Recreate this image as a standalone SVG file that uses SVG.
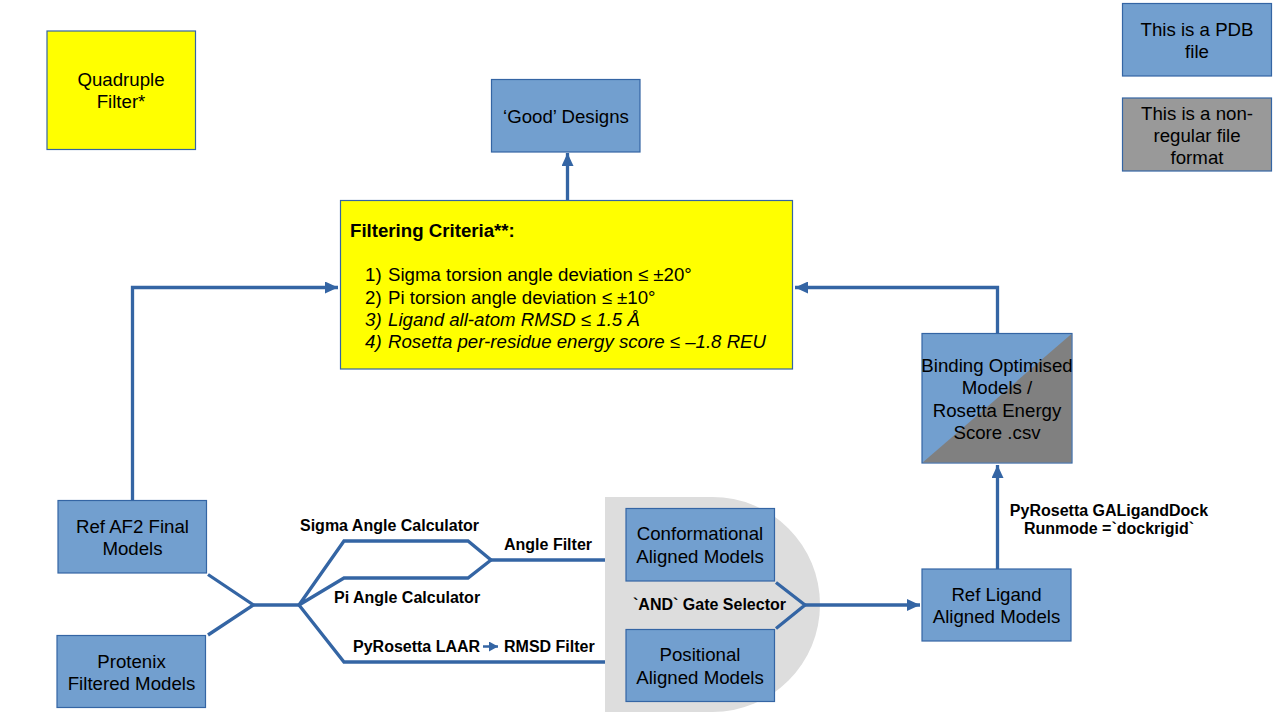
<svg xmlns="http://www.w3.org/2000/svg" width="1280" height="720" viewBox="0 0 1280 720">
<defs>
<style>
.box{fill:#729fcf;stroke:#3465a4;stroke-width:1.2}
.yel{fill:#ffff00;stroke:#3465a4;stroke-width:1.2}
.gry{fill:#999999;stroke:#3465a4;stroke-width:1.2}
.t{font-family:"Liberation Sans",Arial,sans-serif;font-size:18.67px;fill:#000;text-anchor:middle}
.b{font-family:"Liberation Sans",Arial,sans-serif;font-size:16px;font-weight:bold;fill:#000}
.c{font-family:"Liberation Sans",Arial,sans-serif;font-size:18.67px;fill:#000}
.ln{fill:none;stroke:#3465a4;stroke-width:3.3;stroke-linejoin:miter}
</style>
<marker id="ah" markerUnits="userSpaceOnUse" markerWidth="14" markerHeight="12" refX="13" refY="6" orient="auto">
<path d="M0,0 L13,6 L0,12 Z" fill="#3465a4"/>
</marker>
<marker id="ahs" markerUnits="userSpaceOnUse" markerWidth="10" markerHeight="10" refX="9" refY="5" orient="auto">
<path d="M0,0 L9,5 L0,10 Z" fill="#3465a4"/>
</marker>
</defs>
<rect width="1280" height="720" fill="#ffffff"/>

<g id="gate-bg">
<path d="M605,497 H712.5 A107.5,107.5 0 0 1 712.5,712 H605 Z" fill="#dddddd"/>
</g>

<g id="connectors">
<polyline class="ln" points="132.5,500 132.5,287.5 338,287.5" marker-end="url(#ah)"/>
<polyline class="ln" points="997.5,333 997.5,287.5 795,287.5" marker-end="url(#ah)"/>
<line class="ln" x1="567.5" y1="200" x2="567.5" y2="153" marker-end="url(#ah)"/>
<line class="ln" x1="997.5" y1="569" x2="997.5" y2="465" marker-end="url(#ah)"/>
<polyline class="ln" points="208,574.5 253.5,605 208,635"/>
<line class="ln" x1="253.5" y1="605" x2="299" y2="605"/>
<polyline class="ln" points="299,605 344,541 468,541 491,560 468,578 344,578 299,605"/>
<line class="ln" x1="491" y1="560" x2="605" y2="560"/>
<polyline class="ln" points="299,605 344,662 605,662"/>
<polyline class="ln" points="776,582.5 805,605 776,628.5"/>
<line class="ln" x1="805" y1="605" x2="920" y2="605" marker-end="url(#ah)"/>
<line x1="483" y1="646.5" x2="498" y2="646.5" stroke="#3465a4" stroke-width="2.5" marker-end="url(#ahs)"/>
</g>

<g id="labels">
<text class="b" x="300" y="531">Sigma Angle Calculator</text>
<text class="b" x="504" y="550">Angle Filter</text>
<text class="b" x="334" y="603">Pi Angle Calculator</text>
<text class="b" x="353" y="652">PyRosetta LAAR</text>
<text class="b" x="504" y="652">RMSD Filter</text>
<text class="b" x="709.5" y="610" text-anchor="middle">`AND` Gate Selector</text>
<text class="b" x="1109" y="516" text-anchor="middle">PyRosetta GALigandDock</text>
<text class="b" x="1109" y="534" text-anchor="middle">Runmode =`dockrigid`</text>
</g>

<g id="quadruple-filter">
<rect class="yel" x="47" y="31" width="148.5" height="118.5"/>
<text class="t" x="121" y="86">Quadruple</text>
<text class="t" x="121" y="108">Filter*</text>
</g>

<g id="good-designs">
<rect class="box" x="491.5" y="79.5" width="148.5" height="72.5"/>
<text class="t" x="566" y="123">‘Good’ Designs</text>
</g>

<g id="filtering-criteria">
<rect class="yel" x="340.5" y="200.5" width="452" height="168.5"/>
<text class="c" x="350" y="237" font-weight="bold">Filtering Criteria**:</text>
<text class="c" x="365" y="281">1)</text>
<text class="c" x="388" y="281">Sigma torsion angle deviation ≤ ±20°</text>
<text class="c" x="365" y="303.5">2)</text>
<text class="c" x="388" y="303.5">Pi torsion angle deviation ≤ ±10°</text>
<text class="c" x="365" y="326" font-style="italic">3)</text>
<text class="c" x="388" y="326" font-style="italic">Ligand all-atom RMSD ≤ 1.5 Å</text>
<text class="c" x="365" y="348" font-style="italic">4)</text>
<text class="c" x="388" y="348" font-style="italic">Rosetta per-residue energy score ≤ –1.8 REU</text>
</g>

<g id="legend-pdb">
<rect class="box" x="1122.5" y="3.5" width="149" height="72.5"/>
<text class="t" x="1197" y="35.5">This is a PDB</text>
<text class="t" x="1197" y="57.5">file</text>
</g>

<g id="legend-other">
<rect class="gry" x="1122.5" y="98" width="149" height="73"/>
<text class="t" x="1197" y="119.5">This is a non-</text>
<text class="t" x="1197" y="141.5">regular file</text>
<text class="t" x="1197" y="163.5">format</text>
</g>

<g id="binding-optimised">
<rect class="box" x="922" y="333.5" width="150" height="129.5"/>
<path d="M922.6,462.4 L1071.4,334.1 L1071.4,462.4 Z" fill="#808080"/>
<text class="t" x="997" y="372">Binding Optimised</text>
<text class="t" x="997" y="394">Models /</text>
<text class="t" x="997" y="416.5">Rosetta Energy</text>
<text class="t" x="997" y="438.5">Score .csv</text>
</g>

<g id="ref-af2">
<rect class="box" x="58" y="500.5" width="148.5" height="72.5"/>
<text class="t" x="132.5" y="533">Ref AF2 Final</text>
<text class="t" x="132.5" y="555">Models</text>
</g>

<g id="protenix">
<rect class="box" x="57" y="635.5" width="148.5" height="72"/>
<text class="t" x="131.5" y="668">Protenix</text>
<text class="t" x="131.5" y="690">Filtered Models</text>
</g>

<g id="conformational">
<rect class="box" x="626" y="508.5" width="148.5" height="72.5"/>
<text class="t" x="700" y="540">Conformational</text>
<text class="t" x="700" y="563">Aligned Models</text>
</g>

<g id="positional">
<rect class="box" x="626" y="629.5" width="148.5" height="72"/>
<text class="t" x="700" y="661">Positional</text>
<text class="t" x="700" y="683.5">Aligned Models</text>
</g>

<g id="ref-ligand">
<rect class="box" x="922" y="569" width="149" height="72"/>
<text class="t" x="996.5" y="601">Ref Ligand</text>
<text class="t" x="996.5" y="623">Aligned Models</text>
</g>
</svg>
